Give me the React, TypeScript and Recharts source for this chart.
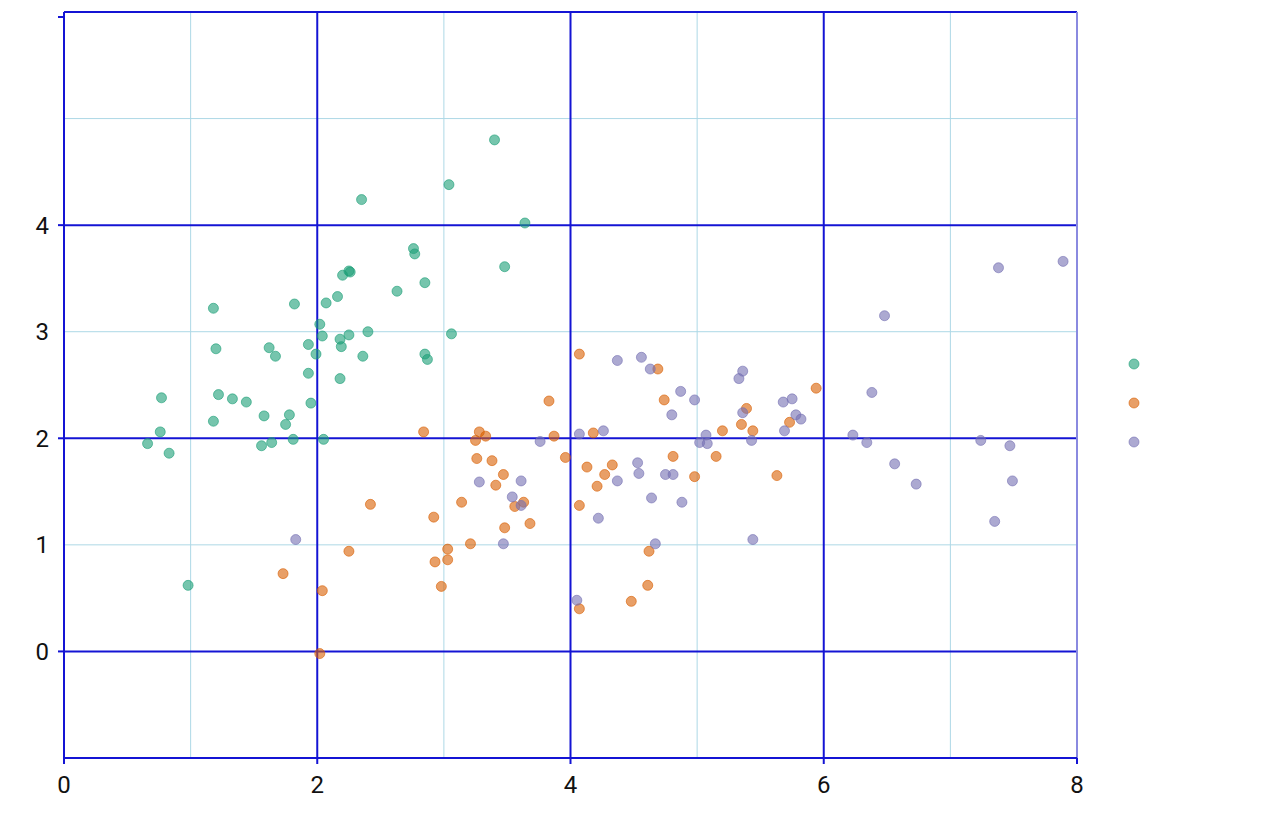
import React from "react";
import { ScatterChart, Scatter, XAxis, YAxis, CartesianGrid, Legend } from "recharts";

// ---- data ----
const greenPoints: [number, number][] = [
  [3.40, 4.80], [3.04, 4.38], [2.35, 4.24], [3.64, 4.02], [2.76, 3.78], [2.77, 3.73],
  [2.26, 3.56], [2.25, 3.57], [2.20, 3.53], [3.48, 3.61], [2.85, 3.46], [2.63, 3.38],
  [2.16, 3.33], [2.07, 3.27], [1.82, 3.26], [1.18, 3.22], [2.02, 3.07], [2.04, 2.96],
  [2.40, 3.00], [2.25, 2.97], [2.18, 2.93], [2.19, 2.86], [1.93, 2.88], [1.99, 2.79],
  [1.62, 2.85], [1.67, 2.77], [1.20, 2.84], [2.36, 2.77], [3.06, 2.98], [2.85, 2.79],
  [2.87, 2.74], [1.93, 2.61], [2.18, 2.56], [0.77, 2.38], [1.22, 2.41], [1.33, 2.37],
  [1.44, 2.34], [1.95, 2.33], [1.18, 2.16], [1.58, 2.21], [1.78, 2.22], [1.75, 2.13],
  [0.76, 2.06], [0.66, 1.95], [0.83, 1.86], [1.56, 1.93], [1.64, 1.96], [1.81, 1.99],
  [2.05, 1.99], [0.98, 0.62],
];

const orangePoints: [number, number][] = [
  [3.83, 2.35], [2.84, 2.06], [3.28, 2.06], [3.25, 1.98], [3.33, 2.02], [3.87, 2.02],
  [3.26, 1.81], [3.38, 1.79], [3.96, 1.82], [4.13, 1.73], [3.47, 1.66], [3.41, 1.56],
  [3.14, 1.40], [2.42, 1.38], [3.63, 1.40], [3.56, 1.36], [4.07, 1.37], [2.92, 1.26],
  [3.68, 1.20], [3.48, 1.16], [3.21, 1.01], [3.03, 0.96], [3.03, 0.86], [2.25, 0.94],
  [2.93, 0.84], [1.73, 0.73], [2.98, 0.61], [2.04, 0.57], [4.07, 0.40], [2.02, -0.02],
  [4.07, 2.79], [4.69, 2.65], [4.74, 2.36], [5.94, 2.47], [5.39, 2.28], [5.73, 2.15],
  [5.35, 2.13], [5.44, 2.07], [5.20, 2.07], [4.18, 2.05], [4.81, 1.83], [5.15, 1.83],
  [4.33, 1.75], [4.27, 1.66], [4.21, 1.55], [4.98, 1.64], [5.63, 1.65], [4.62, 0.94],
  [4.61, 0.62], [4.48, 0.47],
];

const purplePoints: [number, number][] = [
  [3.76, 1.97], [4.07, 2.04], [3.28, 1.59], [3.61, 1.60], [3.54, 1.45], [3.61, 1.37],
  [1.83, 1.05], [3.47, 1.01], [4.05, 0.48], [4.37, 2.73], [4.56, 2.76], [4.63, 2.65],
  [5.36, 2.63], [5.33, 2.56], [4.87, 2.44], [4.98, 2.36], [4.80, 2.22], [5.36, 2.24],
  [5.68, 2.34], [5.75, 2.37], [5.78, 2.22], [5.82, 2.18], [5.69, 2.07], [6.23, 2.03],
  [4.26, 2.07], [5.07, 2.03], [5.02, 1.96], [5.08, 1.95], [5.43, 1.98], [4.53, 1.77],
  [4.54, 1.67], [4.75, 1.66], [4.81, 1.66], [4.37, 1.60], [4.64, 1.44], [4.88, 1.40],
  [4.22, 1.25], [4.67, 1.01], [5.44, 1.05], [7.89, 3.66], [7.38, 3.60], [6.48, 3.15],
  [6.38, 2.43], [6.34, 1.96], [6.56, 1.76], [6.73, 1.57], [7.24, 1.98], [7.47, 1.93],
  [7.49, 1.60], [7.35, 1.22],
];

const xTicks = [0, 2, 4, 6, 8];
const yTicks = [0, 1, 2, 3, 4, 6];
const yLabelled = [0, 1, 2, 3, 4];
const yTickMarks = [0, 2, 4, 6];
const majorX = [2, 4, 6];
const minorX = [1, 3, 5, 7];
const majorY = [0, 2, 4, 6];
const minorY = [1, 3, 5];
const edgeX = [8];

const GREEN = "#1b9e77";
const ORANGE = "#d95f02";
const PURPLE = "#7570b3";
const BLUE = "#1414d4";
const LIGHT = "#add8e6";
const FONT = "Roboto, 'Noto Sans', sans-serif";
const FONT_SIZE = 24;
const R = 5;

const toObjs = (pts: [number, number][]) => pts.map(([x, y]) => ({ x, y }));

const series = [
  { name: "green", color: GREEN, data: toObjs(greenPoints) },
  { name: "orange", color: ORANGE, data: toObjs(orangePoints) },
  { name: "purple", color: PURPLE, data: toObjs(purplePoints) },
];

const dot = (color: string) => (props: any) => (
  <circle
    cx={props.cx}
    cy={props.cy}
    r={R}
    fill={color}
    fillOpacity={0.6}
    stroke={color}
    strokeOpacity={0.6}
    strokeWidth={1}
  />
);

const YTick = (props: any) => {
  const { x, y, payload } = props;
  const v = payload.value;
  return (
    <g>
      {yTickMarks.includes(v) && (
        <line x1={x + 9} y1={y} x2={x + 15} y2={y} stroke={BLUE} strokeWidth={2} />
      )}
      {yLabelled.includes(v) && (
        <text x={x} y={y} dy="0.36em" textAnchor="end" fontSize={FONT_SIZE} fontFamily={FONT} fill="#111">
          {v}
        </text>
      )}
    </g>
  );
};

const LegendContent = () => (
  <svg width={20} height={100}>
    {series.map((s, i) => (
      <circle
        key={s.name}
        cx={10}
        cy={6 + i * 39}
        r={R}
        fill={s.color}
        fillOpacity={0.6}
        stroke={s.color}
        strokeOpacity={0.6}
      />
    ))}
  </svg>
);

export default function App() {
  return (
    <ScatterChart
      width={1264}
      height={816}
      margin={{ top: 4, right: 195, left: 0, bottom: 26 }}
    >
      <CartesianGrid
        horizontalValues={minorY}
        verticalValues={minorX}
        stroke={LIGHT}
        strokeWidth={1}
      />
      <CartesianGrid
        horizontalValues={majorY}
        verticalValues={majorX}
        stroke={BLUE}
        strokeWidth={2}
      />
      <CartesianGrid
        horizontal={false}
        verticalValues={edgeX}
        stroke="#8a8ae0"
        strokeWidth={2}
      />
      <XAxis
        type="number"
        dataKey="x"
        domain={[0, 8]}
        ticks={xTicks}
        allowDataOverflow
        height={40}
        axisLine={{ stroke: BLUE, strokeWidth: 2 }}
        tickLine={{ stroke: BLUE, strokeWidth: 2 }}
        tickSize={6}
        tickMargin={12}
        tick={{ fontSize: FONT_SIZE, fontFamily: FONT, fill: "#111" }}
      />
      <YAxis
        type="number"
        dataKey="y"
        domain={[-1, 6]}
        ticks={yTicks}
        allowDataOverflow
        width={56}
        axisLine={{ stroke: BLUE, strokeWidth: 2 }}
        tickLine={false}
        tickSize={6}
        tickMargin={9}
        tick={<YTick />}
      />
      <Legend
        layout="vertical"
        align="center"
        verticalAlign="middle"
        content={<LegendContent />}
        wrapperStyle={{ left: 1116, top: 350, width: 20 }}
      />
      {series.map((s) => (
        <Scatter
          key={s.name}
          name={s.name}
          data={s.data}
          fill={s.color}
          shape={dot(s.color)}
          isAnimationActive={false}
        />
      ))}
    </ScatterChart>
  );
}
